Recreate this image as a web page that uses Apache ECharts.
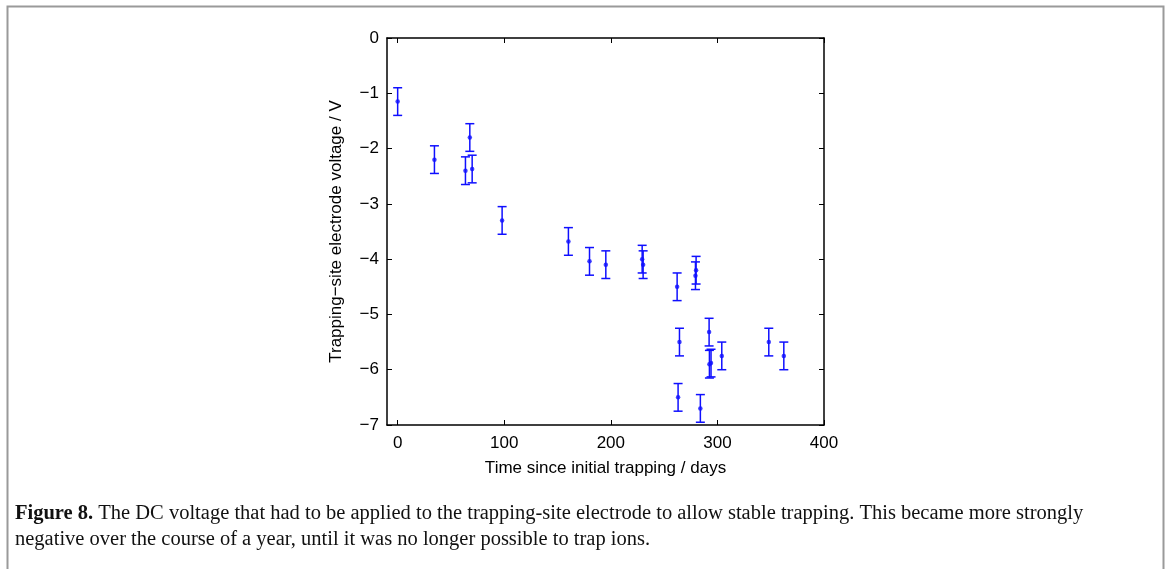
<!DOCTYPE html>
<html>
<head>
<meta charset="utf-8">
<script src="https://cdn.jsdelivr.net/npm/echarts@6/dist/echarts.min.js"></script>
<style>
  html, body { margin: 0; padding: 0; background: #fff; }
  #chart { width: 1168px; height: 569px; }
</style>
</head>
<body>
<div id="chart"></div>
<script>
const days = [0, 34.5, 63.6, 67.7, 69.9, 98, 160.2, 180, 195.3, 229.4, 230.3, 262.2, 264.4, 263.1,
  280, 279.4, 284, 292.2, 292.5, 294, 304.1, 348.2, 362.3];
const volts = [-1.15, -2.2, -2.4, -1.8, -2.37, -3.3, -3.68, -4.04, -4.1, -4.0, -4.1, -4.5, -5.5, -6.5,
  -4.2, -4.3, -6.7, -5.32, -5.9, -5.88, -5.75, -5.5, -5.75];
const errs = [0.25, 0.25, 0.25, 0.25, 0.25, 0.25, 0.25, 0.25, 0.25, 0.25, 0.25, 0.25, 0.25, 0.25,
  0.25, 0.25, 0.25, 0.25, 0.25, 0.25, 0.25, 0.25, 0.25];
const xTicks = [0, 100, 200, 300, 400];

const blue = '#0f0fff';
const points = days.map((d, i) => [d, volts[i]]);
const bars = days.map((d, i) => [d, volts[i] - errs[i], volts[i] + errs[i]]);

const minus = v => (v < 0 ? '\u2212' + Math.abs(v) : String(v));

const axisFont = { fontFamily: 'Liberation Sans, Arial, sans-serif', fontSize: 17, color: '#000' };

function xAx(pos, show) {
  return {
    type: 'value', position: pos, min: -10, max: 400,
    axisLine: { show: true, onZero: false, lineStyle: { color: '#000', width: 1.5 } },
    axisTick: { show: true, inside: true, length: 5, customValues: xTicks, lineStyle: { color: '#000' } },
    axisLabel: { show: show, customValues: xTicks, margin: 10, ...axisFont },
    splitLine: { show: false },
    name: show ? 'Time since initial trapping / days' : '',
    nameLocation: 'middle', nameGap: 35,
    nameTextStyle: axisFont
  };
}

function yAx(pos, show) {
  return {
    type: 'value', position: pos, min: -7, max: 0, interval: 1,
    axisLine: { show: true, onZero: false, lineStyle: { color: '#000', width: 1.5 } },
    axisTick: { show: true, inside: true, length: 5, lineStyle: { color: '#000' } },
    axisLabel: { show: show, formatter: minus, margin: 8, ...axisFont },
    splitLine: { show: false },
    name: show ? 'Trapping\u2212site electrode voltage / V' : '',
    nameLocation: 'middle', nameGap: 42,
    nameTextStyle: axisFont
  };
}

const chart = echarts.init(document.getElementById('chart'));
chart.setOption({
  animation: false,
  backgroundColor: '#fff',
  grid: { left: 387, right: 344, top: 38, bottom: 144 },
  xAxis: [xAx('bottom', true), xAx('top', false)],
  yAxis: [yAx('left', true), yAx('right', false)],
  series: [
    {
      type: 'custom',
      data: bars,
      renderItem: (params, api) => {
        const lo = api.coord([api.value(0), api.value(1)]);
        const hi = api.coord([api.value(0), api.value(2)]);
        const w = 4.5;
        const style = { stroke: blue, lineWidth: 1.5, fill: null };
        return {
          type: 'group',
          children: [
            { type: 'line', shape: { x1: lo[0], y1: lo[1], x2: hi[0], y2: hi[1] }, style },
            { type: 'line', shape: { x1: lo[0] - w, y1: lo[1], x2: lo[0] + w, y2: lo[1] }, style },
            { type: 'line', shape: { x1: hi[0] - w, y1: hi[1], x2: hi[0] + w, y2: hi[1] }, style }
          ]
        };
      }
    },
    {
      type: 'scatter',
      data: points,
      symbol: 'circle',
      symbolSize: 4.5,
      itemStyle: { color: blue }
    }
  ],
  graphic: [
    {
      type: 'rect', left: 5, top: 4, silent: true,
      shape: { width: 1156, height: 620 },
      style: { fill: null, stroke: '#9a9a9a', lineWidth: 2 }
    },
    {
      type: 'text', left: 15, top: 501,
      style: {
        text: '{b|Figure 8.} The DC voltage that had to be applied to the trapping-site electrode to allow stable trapping. This became more strongly\nnegative over the course of a year, until it was no longer possible to trap ions.',
        fontFamily: 'Liberation Serif, Times New Roman, serif',
        fontSize: 20.5, lineHeight: 26, fill: '#111',
        rich: { b: { fontWeight: 'bold', fontFamily: 'Liberation Serif, serif', fontSize: 20.5, lineHeight: 26 } }
      }
    }
  ]
});
</script>
</body>
</html>
